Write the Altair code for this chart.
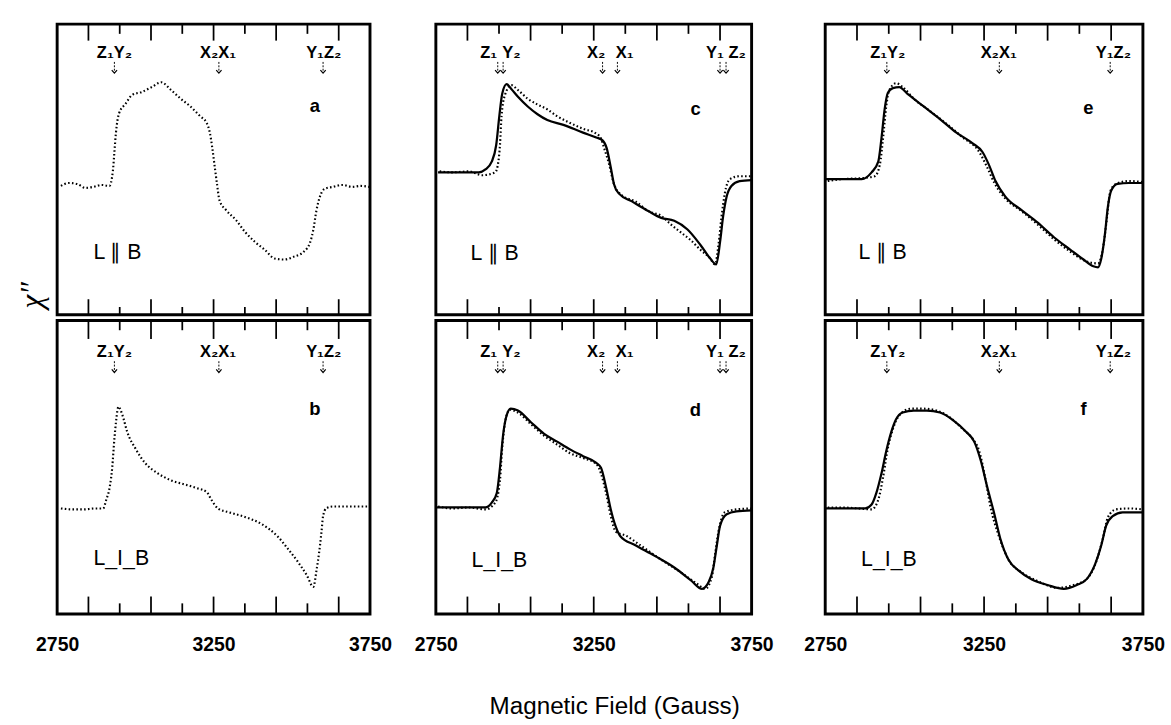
import altair as alt
import pandas as pd

FONT = "Liberation Sans"
X_DOMAIN = [2750, 3750]
TICK_MAJOR = [2850, 3050, 3250, 3450, 3650]
TICK_MINOR = [2950, 3150, 3350, 3550]
AXIS_LABELS = [2750, 3250, 3750]

# ---- panel a (L || B, experiment only)
a_dot_g = [2762, 2788, 2814, 2840, 2866, 2892, 2917, 2928, 2933, 2938, 2948, 2969, 2990, 3021, 3052, 3083, 3114, 3145, 3176, 3207, 3228, 3238, 3246, 3254, 3261, 3269, 3290, 3321, 3352, 3383, 3414, 3445, 3476, 3507, 3538, 3559, 3569, 3579, 3590, 3605, 3631, 3662, 3693, 3720, 3748]
a_dot_v = [133, 136, 135, 131, 132, 134, 133, 148, 168, 188, 208, 218, 227, 230, 235, 240, 232, 223, 215, 205, 198, 188, 172, 152, 135, 118, 108, 98, 85, 75, 67, 58, 57, 60, 65, 75, 88, 108, 122, 130, 132, 134, 132, 133, 132]

# ---- panel b (L _|_ B, experiment only)
b_dot_g = [2762, 2800, 2835, 2870, 2897, 2907, 2918, 2926, 2933, 2938, 2946, 2959, 2974, 3000, 3031, 3073, 3114, 3155, 3197, 3228, 3243, 3264, 3300, 3352, 3403, 3455, 3486, 3517, 3548, 3569, 3579, 3588, 3595, 3600, 3610, 3631, 3690, 3748]
b_dot_v = [106, 105, 105, 106, 106, 115, 128, 148, 178, 195, 211, 202, 185, 168, 153, 142, 135, 131, 127, 123, 115, 106, 102, 97, 90, 77, 65, 52, 37, 25, 42, 62, 82, 98, 106, 108, 108, 108]

# ---- panel c
c_fit_g = [2757, 2886, 2907, 2927, 2941, 2951, 2960, 2974, 2989, 3010, 3041, 3072, 3103, 3154, 3216, 3258, 3278, 3291, 3304, 3314, 3330, 3371, 3423, 3464, 3505, 3547, 3588, 3619, 3638, 3650, 3660, 3671, 3686, 3712, 3750]
c_fit_v = [147, 147, 150, 158, 175, 205, 228, 238, 233, 225, 215, 207, 201, 196, 188, 183, 180, 172, 152, 135, 125, 117, 107, 100, 97, 88, 72, 58, 52, 75, 102, 122, 133, 138, 139]
c_dot_g = [2762, 2803, 2855, 2896, 2938, 2948, 2953, 2958, 2969, 2989, 3010, 3041, 3072, 3103, 3134, 3175, 3216, 3258, 3273, 3283, 3299, 3314, 3340, 3382, 3423, 3464, 3495, 3526, 3557, 3588, 3619, 3634, 3645, 3655, 3665, 3681, 3712, 3750]
c_dot_v = [148, 147, 148, 144, 147, 158, 175, 205, 227, 237, 232, 223, 217, 212, 205, 198, 192, 187, 182, 172, 155, 135, 123, 117, 107, 102, 93, 85, 77, 67, 58, 52, 72, 102, 125, 140, 143, 143]

# ---- panel d
d_fit_g = [2752, 2907, 2927, 2943, 2953, 2963, 2974, 2987, 3010, 3051, 3093, 3134, 3175, 3216, 3258, 3273, 3289, 3304, 3320, 3335, 3382, 3443, 3505, 3557, 3593, 3614, 3629, 3640, 3650, 3671, 3702, 3750]
d_fit_v = [107, 107, 112, 122, 148, 182, 202, 209, 207, 195, 183, 175, 167, 160, 153, 148, 128, 105, 87, 77, 68, 57, 45, 32, 23, 30, 45, 68, 88, 100, 103, 104]
d_dot_g = [2757, 2803, 2855, 2907, 2938, 2953, 2960, 2971, 2984, 3010, 3051, 3093, 3134, 3175, 3216, 3258, 3273, 3289, 3304, 3320, 3351, 3402, 3464, 3526, 3578, 3603, 3624, 3634, 3645, 3665, 3702, 3750]
d_dot_v = [108, 106, 107, 105, 112, 135, 168, 198, 208, 205, 193, 181, 172, 163, 158, 152, 142, 122, 98, 82, 78, 67, 53, 40, 28, 23, 35, 58, 82, 102, 105, 106]

# ---- panel e
e_fit_g = [2752, 2865, 2896, 2917, 2927, 2937, 2947, 2963, 2983, 3009, 3060, 3111, 3163, 3214, 3245, 3265, 3286, 3317, 3368, 3419, 3470, 3522, 3563, 3594, 3609, 3619, 3630, 3640, 3650, 3670, 3706, 3750]
e_fit_v = [140, 140, 147, 158, 182, 212, 229, 234, 235, 228, 215, 202, 188, 177, 168, 155, 138, 122, 108, 95, 80, 67, 57, 50, 49, 58, 82, 112, 128, 135, 136, 136]
e_dot_g = [2758, 2804, 2865, 2906, 2922, 2932, 2942, 2952, 2973, 2994, 3029, 3081, 3132, 3183, 3235, 3260, 3281, 3317, 3368, 3419, 3470, 3522, 3573, 3609, 3624, 3635, 3647, 3665, 3706, 3750]
e_dot_v = [138, 140, 141, 143, 155, 182, 215, 232, 239, 235, 223, 210, 197, 183, 168, 152, 137, 120, 107, 93, 78, 65, 55, 53, 68, 95, 127, 135, 138, 137]

# ---- panel f
f_fit_g = [2752, 2876, 2896, 2911, 2927, 2942, 2958, 2973, 2994, 3029, 3070, 3111, 3153, 3194, 3219, 3240, 3260, 3281, 3301, 3327, 3358, 3399, 3450, 3501, 3542, 3573, 3599, 3619, 3634, 3655, 3686, 3750]
f_fit_v = [106, 106, 110, 122, 142, 165, 185, 198, 205, 207, 207, 205, 197, 185, 175, 155, 128, 102, 75, 53, 42, 33, 27, 23, 27, 33, 48, 68, 88, 98, 102, 102]
f_dot_g = [2758, 2804, 2855, 2896, 2917, 2932, 2947, 2963, 2983, 3019, 3060, 3101, 3142, 3183, 3214, 3235, 3255, 3270, 3296, 3327, 3368, 3419, 3481, 3532, 3573, 3604, 3624, 3640, 3665, 3706, 3750]
f_dot_v = [107, 107, 106, 105, 115, 138, 168, 188, 202, 209, 209, 207, 200, 188, 178, 165, 135, 108, 78, 53, 40, 31, 24, 27, 33, 52, 75, 97, 105, 106, 105]

# ---- resonance markers (labels and arrow positions, Gauss)
m1_labels = ["Z₁Y₂", "X₂X₁", "Y₁Z₂"]
m1_label_g = [2933, 3264, 3602]
m1_arrow_g = [2933, 3267, 3600]
m2_labels = ["Z₁", "Y₂", "X₂", "X₁", "Y₁", "Z₂"]
m2_label_g = [2917, 2989, 3258, 3348, 3634, 3704]
m2_arrow_g = [2946, 2963, 3278, 3325, 3650, 3669]
m3_labels = ["Z₁Y₂", "X₂X₁", "Y₁Z₂"]
m3_label_g = [2947, 3296, 3657]
m3_arrow_g = [2944, 3298, 3647]

TAG_PAR = "L ∥ B"
TAG_PERP = "L_I_B"


def panel(dot_g, dot_v, fit_g, fit_v, letter, letter_g, letter_y, tag, tag_g, tag_y,
          mk_labels, mk_label_g, mk_arrow_g, is_top, width, height, ydomain, chi=False):
    xs = alt.Scale(domain=X_DOMAIN, nice=False, zero=False)
    ys = alt.Scale(domain=ydomain, nice=False, zero=False)
    if is_top:
        xaxis = None
    else:
        xaxis = alt.Axis(values=AXIS_LABELS, ticks=False, domain=False, grid=False,
                         labelFontSize=20, labelFont=FONT, labelFontWeight="bold",
                         labelPadding=22, labelColor="black", labelFlush=False,
                         labelOverlap=False, title=None, format="d")
    X = lambda: alt.X("g:Q", scale=xs, axis=xaxis)
    Y = lambda: alt.Y("v:Q", scale=ys, axis=None)

    layers = []
    dots = alt.Chart(pd.DataFrame({"g": dot_g, "v": dot_v})).mark_line(
        color="black", strokeWidth=2.2, strokeDash=[1.6, 2.4], interpolate="monotone"
    ).encode(x=X(), y=Y())
    layers.append(dots)
    if fit_g:
        fit = alt.Chart(pd.DataFrame({"g": fit_g, "v": fit_v})).mark_line(
            color="black", strokeWidth=2.3, interpolate="monotone"
        ).encode(x=X(), y=Y())
        layers.append(fit)

    maj = pd.DataFrame({"g": TICK_MAJOR})
    mnr = pd.DataFrame({"g": TICK_MINOR})

    def rules(df, y0, y1):
        return alt.Chart(df).mark_rule(color="black", strokeWidth=1.8).encode(
            x=X(), y=alt.value(y0), y2=alt.value(y1))

    if is_top:
        layers += [rules(maj, 0, 17), rules(mnr, 0, 10),
                   rules(maj, height - 16, height), rules(mnr, height - 8, height)]
        base = 35
    else:
        layers += [rules(maj, 0, 19), rules(mnr, 0, 10),
                   rules(maj, height - 18, height), rules(mnr, height - 11, height)]
        base = 38

    mk = pd.DataFrame({"g": mk_label_g, "t": mk_labels})
    layers.append(alt.Chart(mk).mark_text(
        font=FONT, fontSize=17, fontWeight="bold", color="black", baseline="alphabetic", align="center"
    ).encode(x=X(), y=alt.value(base), text="t:N"))
    ar = pd.DataFrame({"g": mk_arrow_g})
    layers.append(alt.Chart(ar).mark_rule(color="black", strokeWidth=1, strokeDash=[2, 1.5]).encode(
        x=X(), y=alt.value(base + 4), y2=alt.value(base + 14)))
    layers.append(alt.Chart(ar).mark_point(
        shape="M -1 -0.6 L 0 0.6 L 1 -0.6", filled=False, size=30, strokeWidth=1.2, color="black", opacity=1
    ).encode(x=X(), y=alt.value(base + 14)))

    layers.append(alt.Chart(pd.DataFrame({"g": [letter_g], "t": [letter]})).mark_text(
        font=FONT, fontSize=19, fontWeight="bold", color="black", baseline="middle", align="center"
    ).encode(x=X(), y=alt.value(letter_y), text="t:N"))
    layers.append(alt.Chart(pd.DataFrame({"g": [tag_g], "t": [tag]})).mark_text(
        font=FONT, fontSize=22, color="black", baseline="middle", align="left"
    ).encode(x=X(), y=alt.value(tag_y), text="t:N"))
    if chi:
        layers.append(alt.Chart(pd.DataFrame({"t": ["χ″"]})).mark_text(
            font="Liberation Serif", fontStyle="italic", fontSize=32, color="black",
            baseline="middle", align="center", angle=270
        ).encode(x=alt.value(-26), y=alt.value(height - 20), text="t:N"))

    return alt.layer(*layers).properties(width=width, height=height)


TOP_DOM = [0, 300]
BOT_DOM = [-3, 300]
H_TOP, H_BOT = 300, 303

pa = panel(a_dot_g, a_dot_v, None, None, "a", 3574, 85, TAG_PAR, 2866, 235,
           m1_labels, m1_label_g, m1_arrow_g, True, 323, H_TOP, TOP_DOM, chi=True)
pb = panel(b_dot_g, b_dot_v, None, None, "b", 3574, 92, TAG_PERP, 2866, 245,
           m1_labels, m1_label_g, m1_arrow_g, False, 323, H_BOT, BOT_DOM)
pc = panel(c_dot_g, c_dot_v, c_fit_g, c_fit_v, "c", 3573, 88, TAG_PAR, 2860, 237,
           m2_labels, m2_label_g, m2_arrow_g, True, 326, H_TOP, TOP_DOM)
pd_ = panel(d_dot_g, d_dot_v, d_fit_g, d_fit_v, "d", 3572, 93, TAG_PERP, 2863, 247,
            m2_labels, m2_label_g, m2_arrow_g, False, 326, H_BOT, BOT_DOM)
pe = panel(e_dot_g, e_dot_v, e_fit_g, e_fit_v, "e", 3578, 87, TAG_PAR, 2855, 235,
           m3_labels, m3_label_g, m3_arrow_g, True, 328, H_TOP, TOP_DOM)
pf = panel(f_dot_g, f_dot_v, f_fit_g, f_fit_v, "f", 3563, 92, TAG_PERP, 2863, 246,
           m3_labels, m3_label_g, m3_arrow_g, False, 328, H_BOT, BOT_DOM)

col1 = alt.vconcat(pa, pb, spacing=0)
col2 = alt.vconcat(pc, pd_, spacing=0)
col3 = alt.vconcat(pe, pf, spacing=0)

left_pair = alt.hconcat(col1, col2, spacing=20)

chart = alt.hconcat(left_pair, col3, spacing=28).properties(
    title=alt.TitleParams("Magnetic Field (Gauss)", orient="bottom", anchor="middle",
                          fontSize=25, font=FONT, fontWeight="normal", color="black",
                          offset=40, dx=25),
    padding={"left": 15, "top": 10, "right": 5, "bottom": 5},
    background="white",
).configure_view(stroke="black", strokeWidth=3)

chart.save("out.html", embed_options={"renderer": "svg", "actions": False})
